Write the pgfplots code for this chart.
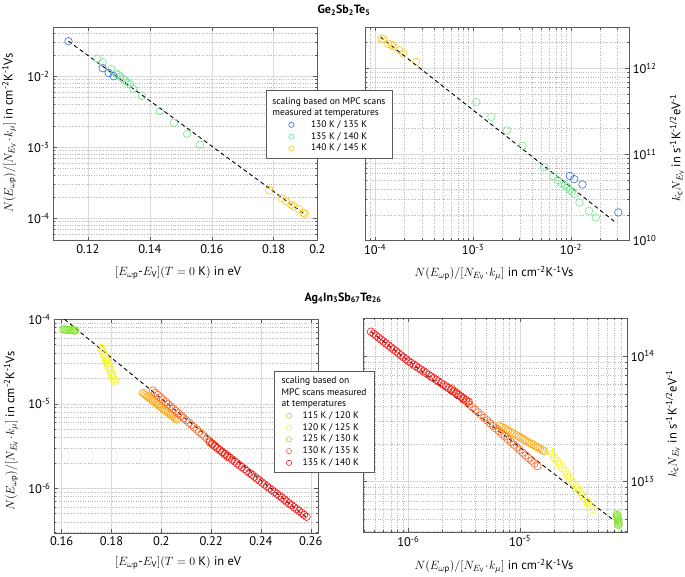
\documentclass[border=0pt]{standalone}
\usepackage{pgfplots}
\pgfplotsset{compat=1.18}
\usepackage{fontspec}
\setmainfont{PT Sans}
\definecolor{cblue}{RGB}{50,110,235}
\definecolor{cgreen}{RGB}{110,230,140}
\definecolor{cyel}{RGB}{250,200,30}
\definecolor{lgreen}{RGB}{140,230,60}
\definecolor{lyel}{RGB}{250,245,20}
\definecolor{lorange}{RGB}{255,170,20}
\definecolor{lorred}{RGB}{255,100,40}
\definecolor{lred}{RGB}{250,20,20}
\definecolor{axgray}{RGB}{90,90,90}
\pgfplotsset{
 base/.style={scale only axis, axis line style={draw=axgray, line width=0.6pt},
  tick style={axgray, line width=0.5pt}, major tick length=4pt, minor tick length=2.2pt,
  tick align=inside, grid=both,
  major grid style={gray!28, line width=0.5pt},
  minor grid style={gray!55, dotted, line width=0.45pt},
  tick label style={font=\fontsize{12.5}{13}\selectfont},
  label style={font=\fontsize{12.5}{14}\selectfont},
  clip=false},
 pts/.style={only marks, mark=o, mark size=3.8pt, line width=0.6pt},
 fit/.style={black, line width=0.9pt, dash pattern=on 4pt off 3pt, no marks},
 legimgA/.style={legend image code/.code={\path (0pt,0pt) (37.2pt,0pt); \draw[##1, mark size=2.6pt] plot coordinates {(19.3pt,0pt)};}},
 legimgB/.style={legend image code/.code={\path (0pt,0pt) (19.5pt,0pt); \draw[##1, mark size=2.6pt] plot coordinates {(7.7pt,0pt)};}},
 legbox/.style={draw=axgray, line width=0.5pt, fill=white,
  font=\fontsize{9.5}{10}\selectfont, inner ysep=4pt, row sep=0.5pt, nodes={inner sep=1.5pt}},
}
\newcommand{\sups}[1]{\textsuperscript{#1}}
\newcommand{\NlabY}{$N(E_{\omega\mathrm{p}})/[N_{E_\mathrm{V}}\!\cdot\! k_\mu]$ in cm\sups{-2}K\sups{-1}Vs}
\newcommand{\Elab}{$[E_{\omega\mathrm{p}}$-$E_\mathrm{V}](T=0\ \mathrm{K})$ in eV}
\newcommand{\Klab}{$k_\mathrm{c}N_{E_\mathrm{V}}$ in s\sups{-1}K\sups{-1/2}eV\sups{-1}}
\begin{document}
\begin{tikzpicture}
\useasboundingbox (0pt,0pt) rectangle (685pt,577pt);
\node[font=\bfseries\fontsize{12}{14}\selectfont] at (344pt,567pt) {Ge\textsubscript{2}Sb\textsubscript{2}Te\textsubscript{5}};
\node[font=\bfseries\fontsize{12}{14}\selectfont] at (343pt,279pt) {Ag\textsubscript{4}In\textsubscript{3}Sb\textsubscript{67}Te\textsubscript{26}};

% ---------- Panel 1 ----------
\begin{axis}[base, at={(53pt,336.3pt)}, anchor=south west, width=264.4pt, height=213.2pt,
 xmin=0.1087, xmax=0.1941, ymode=log, ymin=4.85e-5, ymax=4.85e-2,
 xtick={0.12,0.14,0.16,0.18,0.1941}, xticklabels={0.12,0.14,0.16,0.18,0.2},
 ytick={1e-4,1e-3,1e-2}, yticklabels={10\sups{-4},10\sups{-3},10\sups{-2}},
 minor ytick={5e-5,6e-5,7e-5,8e-5,9e-5,2e-4,3e-4,4e-4,5e-4,6e-4,7e-4,8e-4,9e-4,2e-3,3e-3,4e-3,5e-3,6e-3,7e-3,8e-3,9e-3,2e-2,3e-2,4e-2},
 xlabel={\Elab}, ylabel={\NlabY},
 xlabel style={at={(axis description cs:0.473,-0.152)}, anchor=center},
 ylabel style={at={(axis description cs:-0.166,0.505)}, anchor=center}]
\addplot[pts, cgreen] coordinates {(0.12302,0.0177)(0.12475,0.01573)(0.12755,0.01254)(0.12917,0.0109)(0.12982,0.01044)(0.13046,0.00989)(0.13122,0.00927)(0.13197,0.00869)(0.13273,0.00823)(0.13359,0.00772)(0.13456,0.00671)(0.13748,0.00529)(0.1432,0.00322)(0.14773,0.00221)(0.15204,0.00155)(0.15614,0.00109)};
\addplot[pts, cblue] coordinates {(0.1137,0.0311)(0.12475,0.01295)(0.12669,0.01114)(0.12831,0.0100)};
\addplot[pts, cyel] coordinates {(0.17857,2.50e-4)(0.18256,1.91e-4)(0.18407,1.73e-4)(0.18569,1.56e-4)(0.18634,1.49e-4)(0.18817,1.34e-4)(0.18958,1.20e-4)(0.19001,1.16e-4)};
\addplot[fit] coordinates {(0.1137,0.0311)(0.1904,1.11e-4)};
\end{axis}

% ---------- Panel 2 ----------
\begin{axis}[base, at={(365pt,336.3pt)}, anchor=south west, width=264.3pt, height=213.2pt,
 xmode=log, ymode=log, xmin=7.9e-5, xmax=0.0394, ymin=1e10, ymax=3.0e12,
 xtick={1e-4,1e-3,1e-2}, xticklabels={10\sups{-4},10\sups{-3},10\sups{-2}},
 minor xtick={8e-5,9e-5,2e-4,3e-4,4e-4,5e-4,6e-4,7e-4,8e-4,9e-4,2e-3,3e-3,4e-3,5e-3,6e-3,7e-3,8e-3,9e-3,2e-2,3e-2},
 ytick={1e10,1e11,1e12}, yticklabels={10\sups{10},10\sups{11},10\sups{12}},
 minor ytick={2e10,3e10,4e10,5e10,6e10,7e10,8e10,9e10,2e11,3e11,4e11,5e11,6e11,7e11,8e11,9e11,2e12,3e12},
 yticklabel pos=right,
 xlabel={\NlabY}, ylabel={\Klab},
 xlabel style={at={(axis description cs:0.488,-0.152)}, anchor=center},
 ylabel style={at={(axis description cs:1.18,0.435)}, anchor=center},
 legend style={legbox, at={(-0.3746,0.707)}, anchor=north west, inner xsep=5.5pt}, legend cell align=left]
\addplot[pts, cyel, forget plot] coordinates {(1.17e-4,2.23e12)(1.22e-4,2.17e12)(1.37e-4,1.93e12)(1.48e-4,1.88e12)(1.54e-4,1.81e12)(1.77e-4,1.63e12)(1.95e-4,1.49e12)(2.62e-4,1.19e12)};
\addplot[pts, cgreen, forget plot] coordinates {(1.08e-3,4.07e11)(1.54e-3,2.75e11)(2.22e-3,1.91e11)(3.21e-3,1.27e11)(5.30e-3,7.19e10)(6.60e-3,5.61e10)(7.31e-3,5.05e10)(8.03e-3,4.66e10)(8.69e-3,4.41e10)(9.25e-3,4.15e10)(9.77e-3,3.90e10)(1.03e-2,3.70e10)(1.08e-2,3.48e10)(1.22e-2,2.78e10)(1.53e-2,2.22e10)(1.79e-2,1.86e10)};
\addplot[pts, cblue, forget plot] coordinates {(9.77e-3,5.66e10)(1.08e-2,5.18e10)(1.31e-2,4.50e10)(3.04e-2,2.13e10)};
\addplot[fit, forget plot] coordinates {(1.13e-4,2.33e12)(2.92e-2,1.60e10)};
\addlegendimage{empty legend}
\addlegendentry{\hspace*{-38.7pt}\smash{scaling based on MPC scans}\rule{0pt}{8.5pt}}
\addlegendimage{empty legend}
\addlegendentry{\hspace*{-38.7pt}\smash{measured at temperatures}\rule[-4.3pt]{0pt}{10.8pt}}
\addlegendimage{only marks, mark=o, line width=0.6pt, cblue, legimgA}
\addlegendentry{130 K / 135 K}
\addlegendimage{only marks, mark=o, line width=0.6pt, cgreen, legimgA}
\addlegendentry{135 K / 140 K}
\addlegendimage{only marks, mark=o, line width=0.6pt, cyel, legimgA}
\addlegendentry{140 K / 145 K}
\end{axis}

% ---------- Panel 3 ----------
\begin{axis}[base, at={(54pt,43.7pt)}, anchor=south west, width=264pt, height=214pt,
 xmin=0.1569, xmax=0.2629, ymode=log, ymin=2.93e-7, ymax=1e-4,
 xtick={0.16,0.18,0.2,0.22,0.24,0.26}, xticklabels={0.16,0.18,0.2,0.22,0.24,0.26},
 ytick={1e-6,1e-5,1e-4}, yticklabels={10\sups{-6},10\sups{-5},10\sups{-4}},
 minor ytick={3e-7,4e-7,5e-7,6e-7,7e-7,8e-7,9e-7,2e-6,3e-6,4e-6,5e-6,6e-6,7e-6,8e-6,9e-6,2e-5,3e-5,4e-5,5e-5,6e-5,7e-5,8e-5,9e-5},
 xlabel={\Elab}, ylabel={\NlabY},
 xlabel style={at={(axis description cs:0.47,-0.139)}, anchor=center},
 ylabel style={at={(axis description cs:-0.163,0.478)}, anchor=center}]
\addplot[pts, lgreen] coordinates {(0.1607,7.60e-5)(0.16114,7.58e-5)(0.16158,7.56e-5)(0.16202,7.54e-5)(0.16245,7.52e-5)(0.16289,7.50e-5)(0.16333,7.48e-5)(0.16377,7.46e-5)(0.16421,7.43e-5)(0.16464,7.41e-5)(0.16508,7.38e-5)(0.1655,7.35e-5)};
\addplot[pts, lyel] coordinates {(0.1759,4.58e-5)(0.17626,4.31e-5)(0.17662,4.05e-5)(0.17698,3.81e-5)(0.17734,3.58e-5)(0.1777,3.37e-5)(0.17806,3.17e-5)(0.17842,2.98e-5)(0.17878,2.80e-5)(0.17914,2.63e-5)(0.1795,2.47e-5)(0.17986,2.33e-5)(0.18022,2.19e-5)(0.18058,2.06e-5)(0.18094,1.94e-5)(0.1813,1.82e-5)};
\addplot[pts, lorange] coordinates {(0.1925,1.349e-5)(0.1931,1.306e-5)(0.1937,1.266e-5)(0.1943,1.226e-5)(0.1949,1.188e-5)(0.1955,1.151e-5)(0.1961,1.115e-5)(0.1967,1.080e-5)(0.1973,1.046e-5)(0.1979,1.014e-5)(0.1985,9.82e-6)(0.1991,9.51e-6)(0.1997,9.22e-6)(0.2003,8.93e-6)(0.2009,8.65e-6)(0.2015,8.38e-6)(0.2021,8.12e-6)(0.2027,7.87e-6)(0.2033,7.62e-6)(0.2039,7.38e-6)(0.2045,7.15e-6)(0.2051,6.93e-6)(0.2057,6.71e-6)(0.2063,6.50e-6)};
\addplot[pts, lorred] coordinates {(0.1966,1.439e-5)(0.1976,1.351e-5)(0.1987,1.269e-5)(0.1997,1.192e-5)(0.2007,1.120e-5)(0.2018,1.052e-5)(0.2028,9.88e-6)(0.2038,9.28e-6)(0.2049,8.71e-6)(0.2059,8.18e-6)(0.2069,7.69e-6)(0.2080,7.22e-6)(0.2090,6.78e-6)(0.2100,6.37e-6)(0.2111,5.98e-6)(0.2121,5.62e-6)(0.2131,5.28e-6)(0.2142,4.96e-6)(0.2152,4.66e-6)(0.2162,4.38e-6)(0.2173,4.11e-6)(0.2183,3.86e-6)(0.2193,3.63e-6)(0.2204,3.40e-6)(0.2214,3.20e-6)(0.2224,3.00e-6)(0.2235,2.82e-6)(0.2245,2.65e-6)(0.2255,2.49e-6)(0.2266,2.34e-6)};
\addplot[pts, lred] coordinates {(0.2195,3.50e-6)(0.2205,3.32e-6)(0.2215,3.15e-6)(0.2225,2.99e-6)(0.2235,2.84e-6)(0.2245,2.70e-6)(0.2255,2.56e-6)(0.2265,2.43e-6)(0.2275,2.31e-6)(0.2285,2.19e-6)(0.2295,2.08e-6)(0.2304,1.97e-6)(0.2314,1.87e-6)(0.2324,1.78e-6)(0.2334,1.69e-6)(0.2344,1.60e-6)(0.2354,1.52e-6)(0.2364,1.45e-6)(0.2374,1.37e-6)(0.2384,1.30e-6)(0.2394,1.24e-6)(0.2404,1.17e-6)(0.2414,1.11e-6)(0.2424,1.06e-6)(0.2434,1.00e-6)(0.2444,9.53e-7)(0.2454,9.05e-7)(0.2464,8.59e-7)(0.2474,8.15e-7)(0.2484,7.74e-7)(0.2494,7.35e-7)(0.2503,6.98e-7)(0.2513,6.62e-7)(0.2523,6.29e-7)(0.2533,5.97e-7)(0.2543,5.67e-7)(0.2553,5.38e-7)(0.2563,5.11e-7)(0.2573,4.85e-7)(0.2583,4.60e-7)};
\addplot[fit] coordinates {(0.1611,1.0e-4)(0.2583,4.5e-7)};
\end{axis}

% ---------- Panel 4 ----------
\begin{axis}[base, at={(363.3pt,44.7pt)}, anchor=south west, width=264pt, height=214pt,
 xmode=log, ymode=log, xmin=3.95e-7, xmax=9.1e-5, ymin=3.95e12, ymax=2.0e14,
 xtick={1e-6,1e-5}, xticklabels={10\sups{-6},10\sups{-5}},
 minor xtick={4e-7,5e-7,6e-7,7e-7,8e-7,9e-7,2e-6,3e-6,4e-6,5e-6,6e-6,7e-6,8e-6,9e-6,2e-5,3e-5,4e-5,5e-5,6e-5,7e-5,8e-5,9e-5},
 ytick={1e13,1e14}, yticklabels={10\sups{13},10\sups{14}},
 minor ytick={4e12,5e12,6e12,7e12,8e12,9e12,2e13,3e13,4e13,5e13,6e13,7e13,8e13,9e13,2e14},
 yticklabel pos=right,
 xlabel={\NlabY}, ylabel={\Klab},
 xlabel style={at={(axis description cs:0.495,-0.157)}, anchor=center},
 ylabel style={at={(axis description cs:1.173,0.506)}, anchor=center},
 legend style={legbox, at={(-0.337,0.754)}, anchor=north west, inner xsep=6.5pt}, legend cell align=left]
\addplot[pts, lgreen, forget plot] coordinates {(7.60e-5,4.50e12)(7.58e-5,4.58e12)(7.56e-5,4.67e12)(7.54e-5,4.76e12)(7.52e-5,4.85e12)(7.50e-5,4.94e12)(7.48e-5,5.03e12)(7.46e-5,5.12e12)(7.43e-5,5.22e12)(7.41e-5,5.31e12)(7.38e-5,5.41e12)(7.35e-5,5.50e12)};
\addplot[pts, lyel, forget plot] coordinates {(1.832e-5,1.766e13)(1.930e-5,1.658e13)(2.034e-5,1.556e13)(2.143e-5,1.461e13)(2.257e-5,1.372e13)(2.378e-5,1.287e13)(2.506e-5,1.209e13)(2.640e-5,1.134e13)(2.781e-5,1.065e13)(2.930e-5,9.99e12)(3.087e-5,9.38e12)(3.252e-5,8.81e12)(3.426e-5,8.27e12)(3.609e-5,7.76e12)(3.803e-5,7.29e12)(4.006e-5,6.84e12)(4.221e-5,6.42e12)(4.446e-5,6.03e12)};
\addplot[pts, lorange, forget plot] coordinates {(6.53e-6,2.79e13)(6.82e-6,2.73e13)(7.13e-6,2.67e13)(7.45e-6,2.61e13)(7.78e-6,2.56e13)(8.13e-6,2.50e13)(8.50e-6,2.44e13)(8.88e-6,2.39e13)(9.28e-6,2.34e13)(9.69e-6,2.29e13)(1.013e-5,2.24e13)(1.058e-5,2.19e13)(1.105e-5,2.14e13)(1.155e-5,2.09e13)(1.207e-5,2.04e13)(1.261e-5,2.00e13)(1.318e-5,1.96e13)(1.377e-5,1.91e13)(1.438e-5,1.87e13)(1.503e-5,1.83e13)(1.570e-5,1.79e13)(1.641e-5,1.75e13)};
\addplot[pts, lorred, forget plot] coordinates {(2.44e-6,5.53e13)(2.59e-6,5.27e13)(2.75e-6,5.02e13)(2.93e-6,4.78e13)(3.11e-6,4.55e13)(3.31e-6,4.33e13)(3.51e-6,4.12e13)(3.74e-6,3.92e13)(3.97e-6,3.74e13)(4.22e-6,3.56e13)(4.48e-6,3.39e13)(4.77e-6,3.22e13)(5.07e-6,3.07e13)(5.38e-6,2.92e13)(5.72e-6,2.78e13)(6.08e-6,2.65e13)(6.47e-6,2.52e13)(6.88e-6,2.40e13)(7.30e-6,2.29e13)(7.76e-6,2.18e13)(8.25e-6,2.07e13)(8.77e-6,1.97e13)(9.32e-6,1.88e13)(9.91e-6,1.79e13)(1.053e-5,1.70e13)(1.119e-5,1.62e13)(1.190e-5,1.54e13)(1.265e-5,1.47e13)(1.344e-5,1.40e13)(1.429e-5,1.33e13)};
\addplot[pts, lred, forget plot] coordinates {(4.63e-7,1.563e14)(4.88e-7,1.508e14)(5.14e-7,1.455e14)(5.41e-7,1.403e14)(5.69e-7,1.353e14)(5.99e-7,1.306e14)(6.31e-7,1.259e14)(6.65e-7,1.215e14)(7.00e-7,1.172e14)(7.37e-7,1.130e14)(7.76e-7,1.090e14)(8.17e-7,1.051e14)(8.60e-7,1.014e14)(9.05e-7,9.78e13)(9.53e-7,9.44e13)(1.003e-6,9.10e13)(1.056e-6,8.83e13)(1.112e-6,8.56e13)(1.171e-6,8.30e13)(1.232e-6,8.04e13)(1.297e-6,7.80e13)(1.366e-6,7.56e13)(1.438e-6,7.33e13)(1.514e-6,7.11e13)(1.594e-6,6.89e13)(1.679e-6,6.68e13)(1.768e-6,6.48e13)(1.861e-6,6.28e13)(1.959e-6,6.09e13)(2.063e-6,5.91e13)(2.172e-6,5.73e13)(2.287e-6,5.55e13)(2.407e-6,5.38e13)(2.534e-6,5.22e13)(2.668e-6,5.06e13)(2.809e-6,4.91e13)(2.958e-6,4.76e13)(3.114e-6,4.61e13)(3.279e-6,4.47e13)(3.451e-6,4.34e13)};
\addplot[fit, forget plot] coordinates {(4.64e-7,1.56e14)(7.44e-5,4.66e12)};
\addlegendimage{empty legend}
\addlegendentry{\hspace*{-21pt}\smash{scaling based on}\rule{0pt}{7pt}}
\addlegendimage{empty legend}
\addlegendentry{\hspace*{-21pt}\smash{MPC scans measured}\rule{0pt}{6.5pt}}
\addlegendimage{empty legend}
\addlegendentry{\hspace*{-21pt}\smash{at temperatures}\rule[-3.5pt]{0pt}{10pt}}
\addlegendimage{only marks, mark=o, line width=0.6pt, lgreen, legimgB}
\addlegendentry{115 K / 120 K}
\addlegendimage{only marks, mark=o, line width=0.6pt, lyel, legimgB}
\addlegendentry{120 K / 125 K}
\addlegendimage{only marks, mark=o, line width=0.6pt, lorange, legimgB}
\addlegendentry{125 K / 130 K}
\addlegendimage{only marks, mark=o, line width=0.6pt, lorred, legimgB}
\addlegendentry{130 K / 135 K}
\addlegendimage{only marks, mark=o, line width=0.6pt, lred, legimgB}
\addlegendentry{135 K / 140 K}
\end{axis}
\end{tikzpicture}
\end{document}
